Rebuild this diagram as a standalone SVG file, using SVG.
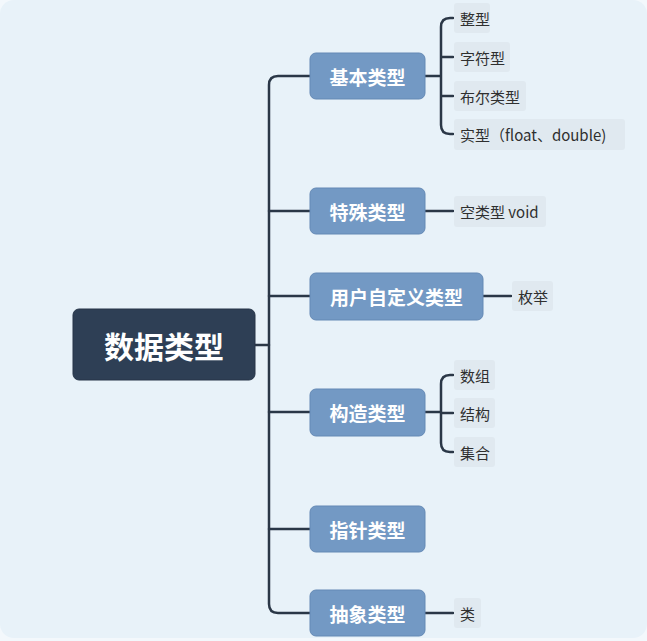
<svg xmlns="http://www.w3.org/2000/svg" width="647" height="641" viewBox="0 0 647 641">
<style>
.cjk{font-family:"Noto Sans CJK SC","Noto Sans",sans-serif;dominant-baseline:central;}
.root rect{fill:#2e3f55;stroke:#263549;stroke-width:1}
.root text{fill:#fff;font-size:30px;font-weight:bold;text-anchor:middle}
.br rect{fill:#7399c4;stroke:#6489b5;stroke-width:1}
.br text{fill:#fff;font-size:19px;font-weight:bold;text-anchor:middle}
.leaf rect{fill:#e0e9f0}
.leaf text{fill:#2f2f2f;font-size:15px}
.conn path{fill:none;stroke:#2a3747;stroke-width:2.5;stroke-linecap:round}
</style>
<rect x="0" y="0" width="647" height="641" fill="#f3f8fc"/>
<rect x="0" y="0" width="647" height="638" rx="14" fill="#e8f2f9"/>
<g class="conn">
<path d="M255,345 H269"/>
<path d="M310,76 H278 Q269,76 269,85 V604 Q269,613 278,613 H310"/>
<path d="M269,211 H310 M269,296 H310 M269,412 H310 M269,529 H310"/>
<path d="M425,76 H441 M453,18 H450 Q441,18 441,27 V125 Q441,134 450,134 H453 M441,57 H453 M441,96 H453"/>
<path d="M425,211 H453"/>
<path d="M483,296 H511"/>
<path d="M425,412 H441 M453,375 H450 Q441,375 441,384 V443 Q441,452 450,452 H453 M441,413 H453"/>
<path d="M425,613 H453"/>
</g>
<g id="root" class="root"><rect x="73" y="309" width="182" height="71" rx="6"/><text class="cjk" x="164" y="345">数据类型</text></g>
<g id="b1" class="br"><rect x="310" y="53" width="115" height="46" rx="6"/><text class="cjk" x="367.5" y="76">基本类型</text></g>
<g id="b2" class="br"><rect x="310" y="188" width="115" height="46" rx="6"/><text class="cjk" x="367.5" y="211">特殊类型</text></g>
<g id="b3" class="br"><rect x="310" y="273" width="173" height="47" rx="6"/><text class="cjk" x="396.5" y="296.5">用户自定义类型</text></g>
<g id="b4" class="br"><rect x="310" y="389" width="115" height="47" rx="6"/><text class="cjk" x="367.5" y="412.5">构造类型</text></g>
<g id="b5" class="br"><rect x="310" y="506" width="115" height="46" rx="6"/><text class="cjk" x="367.5" y="529">指针类型</text></g>
<g id="b6" class="br"><rect x="310" y="590" width="115" height="46" rx="6"/><text class="cjk" x="367.5" y="613">抽象类型</text></g>
<g id="l1" class="leaf"><rect x="454" y="3" width="36" height="30" rx="3"/><text class="cjk" x="460" y="18">整型</text></g>
<g id="l2" class="leaf"><rect x="454" y="42" width="56" height="30" rx="3"/><text class="cjk" x="460" y="57">字符型</text></g>
<g id="l3" class="leaf"><rect x="454" y="81" width="72" height="30" rx="3"/><text class="cjk" x="460" y="96">布尔类型</text></g>
<g id="l4" class="leaf"><rect x="454" y="119" width="171" height="31" rx="3"/><text class="cjk" x="460" y="134">实型（float、double)</text></g>
<g id="l5" class="leaf"><rect x="454" y="196" width="92" height="31" rx="3"/><text class="cjk" x="460" y="211">空类型 void</text></g>
<g id="l6" class="leaf"><rect x="512" y="281" width="41" height="30" rx="3"/><text class="cjk" x="518" y="296">枚举</text></g>
<g id="l7" class="leaf"><rect x="454" y="360" width="41" height="30" rx="3"/><text class="cjk" x="460" y="375">数组</text></g>
<g id="l8" class="leaf"><rect x="454" y="398" width="41" height="30" rx="3"/><text class="cjk" x="460" y="413">结构</text></g>
<g id="l9" class="leaf"><rect x="454" y="437" width="41" height="30" rx="3"/><text class="cjk" x="460" y="452">集合</text></g>
<g id="l10" class="leaf"><rect x="454" y="598" width="27" height="30" rx="3"/><text class="cjk" x="460" y="613">类</text></g>
</svg>
